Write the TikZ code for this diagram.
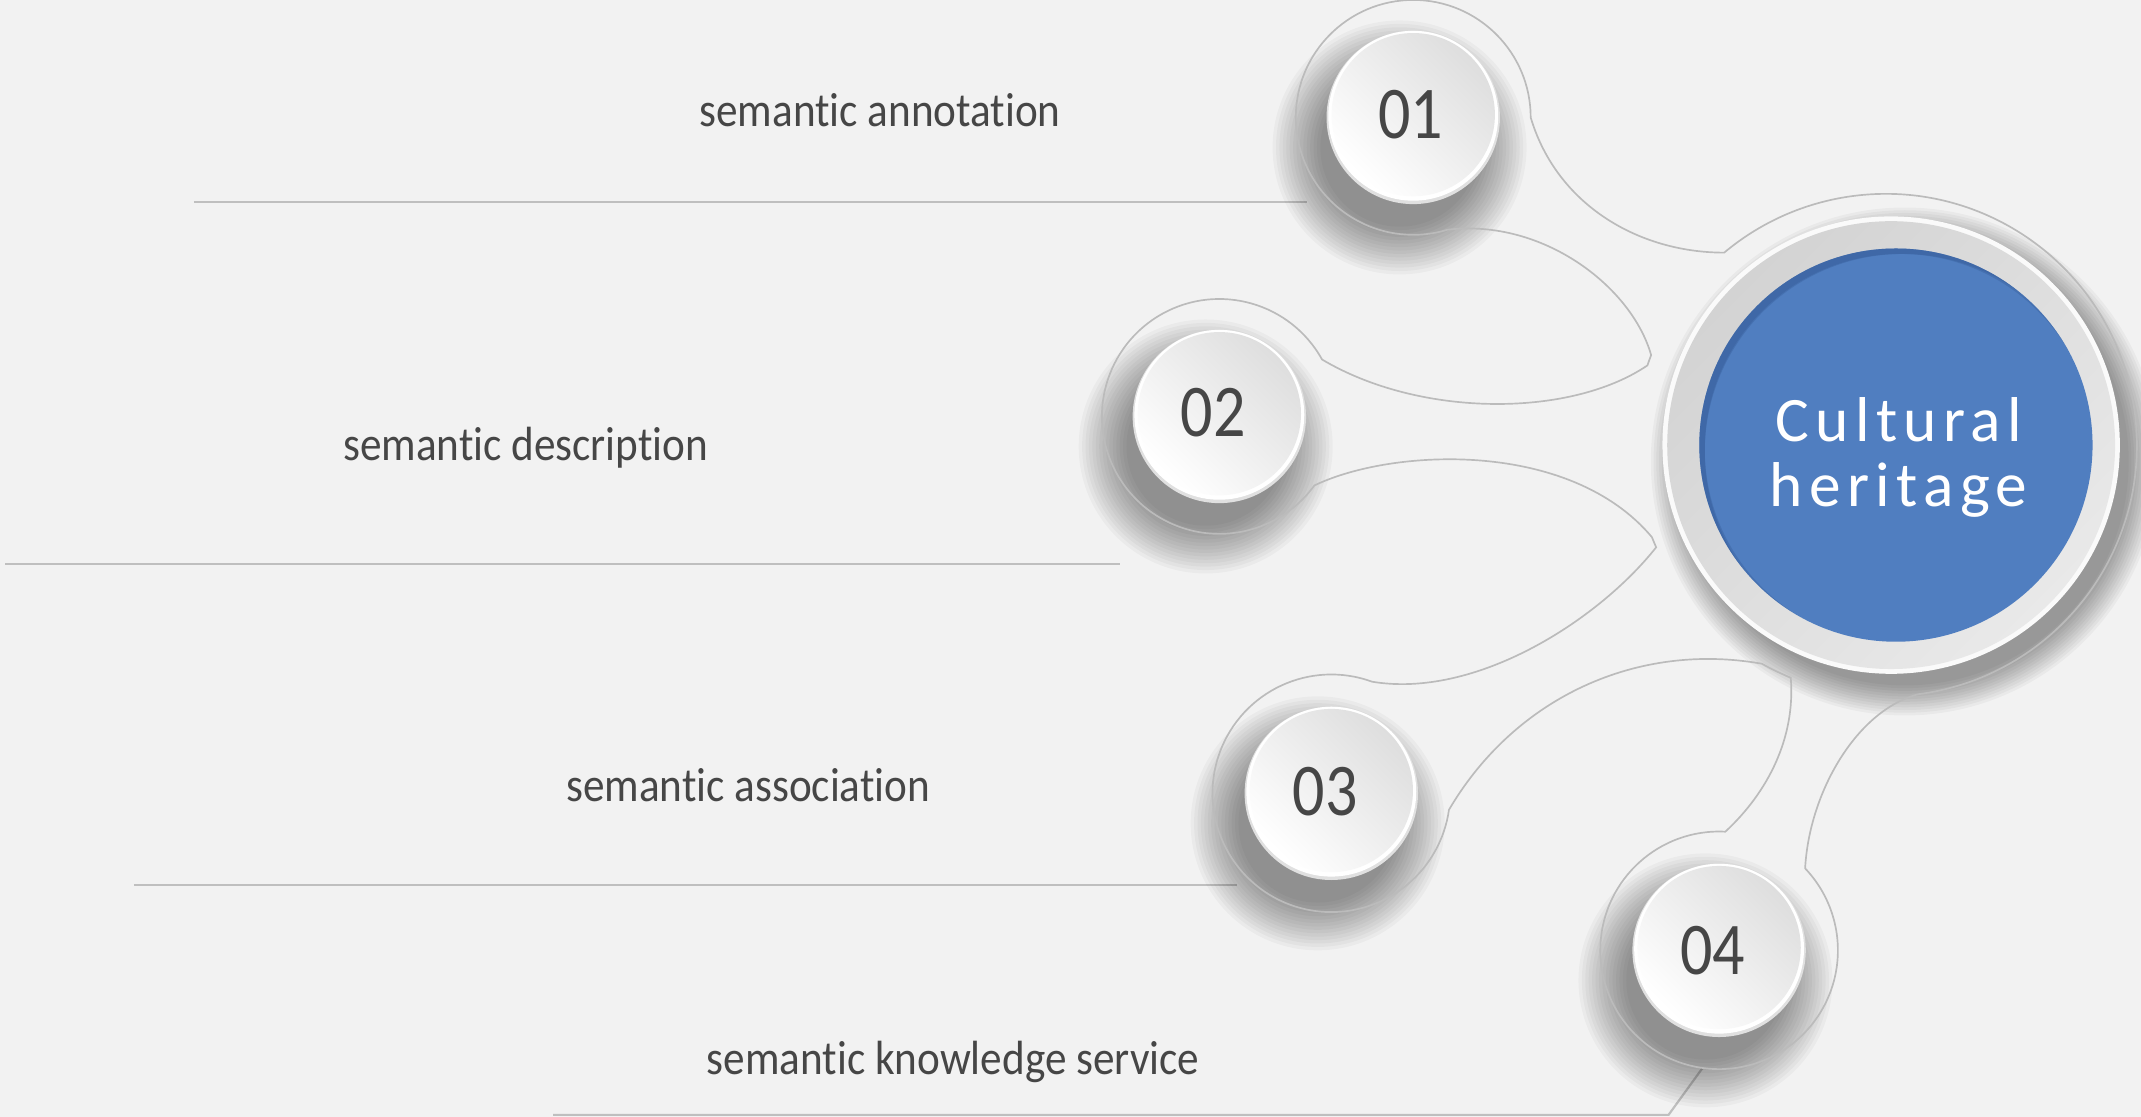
\documentclass[tikz,border=0pt]{standalone}
\usepackage{fontspec}
\setmainfont{Carlito}
\newfontfamily\labelfont{Carlito}[FakeStretch=0.9, Ligatures=NoCommon]
\newfontfamily\numfont{Carlito}[FakeStretch=0.86]
\newfontfamily\hubfont{Carlito}[LetterSpace=10, Ligatures=NoCommon]
\usepackage{tikz}
\usetikzlibrary{calc}

\definecolor{bgcol}{HTML}{F2F2F2}
\definecolor{txtcol}{HTML}{464646}
\definecolor{rulecol}{HTML}{BFBFBF}
\definecolor{outlinecol}{HTML}{BBBBBB}
\definecolor{hubblue}{HTML}{507EC0}
\definecolor{hubdark}{HTML}{2F5590}
\definecolor{hubrim}{HTML}{FAFAFA}
\definecolor{ringgrey}{HTML}{D3D3D3}
\definecolor{ringlight}{HTML}{E9E9E9}
\definecolor{diskgrey}{HTML}{DEDEDE}
\definecolor{diskedge}{HTML}{E0E0E0}

\begin{document}
\begin{tikzpicture}[
    itemtext/.style={font=\labelfont\fontsize{10}{12}\selectfont, text=txtcol,
                     anchor=base, inner sep=0pt},
    num/.style={font=\numfont\fontsize{15.5}{16}\selectfont, text=txtcol, inner sep=0pt},
    hubtext/.style={font=\hubfont\fontsize{13.2}{13.4}\selectfont, text=white,
                    align=center, inner sep=0pt},
    rule/.style={draw=rulecol, line width=0.45pt},
    outline/.style={draw=outlinecol, line width=0.35pt}
]

    % Canvas
    \useasboundingbox (0,0) rectangle (15.68,8.18);
    \fill[bgcol] (0,0) rectangle (15.68,8.18);

    % Centres of the discs and the hub
    \coordinate (c1) at (10.35,7.32);
    \coordinate (c2) at (8.93,5.13);
    \coordinate (c3) at (9.75,2.37);
    \coordinate (c4) at (12.59,1.22);
    \coordinate (hub) at (13.85,4.92);
    \coordinate (core) at (13.885,4.92);
    \coordinate (halo) at (13.81,4.92);

    % Rules under the items
    \coordinate (r1a) at (1.42,6.70);
    \coordinate (r1b) at (9.57,6.70);
    \coordinate (r2a) at (0.04,4.05);
    \coordinate (r2b) at (8.20,4.05);
    \coordinate (r3a) at (0.98,1.70);
    \coordinate (r3b) at (9.06,1.70);
    \coordinate (r4a) at (4.05,0.015);
    \coordinate (r4b) at (12.22,0.015);
    \draw[rule] (r1a) -- (r1b);
    \draw[rule] (r2a) -- (r2b);
    \draw[rule] (r3a) -- (r3b);
    \draw[rule] (r4a) -- (r4b) -- ($(c4)+(262:0.87)$);

    % Shadows
    \foreach \c in {c1,c2,c3,c4}
        \foreach \k in {0,...,14}
            \fill[black, opacity=0.03] ($(\c)+(-0.10,-0.22)$) circle ({0.93-0.025*\k});
    \foreach \k in {0,...,11}
        \fill[black, opacity=0.035] ($(hub)+(0.10,-0.12)$) circle ({1.86-0.02*\k});

    % Outline joining the rings and the hub
    \draw[outline]
        ($(c1)+(0:0.86)$) arc[start angle=0, end angle=287, radius=0.86]
        .. controls (11.30,6.58) and (11.95,6.08) .. ($(halo)+(159:1.84)$)
        arc[start angle=159, end angle=161.5, radius=1.84]
        .. controls (11.50,5.12) and (10.40,5.12) .. ($(c2)+(29:0.86)$)
        arc[start angle=29, end angle=324, radius=0.86]
        .. controls (10.20,4.90) and (11.50,4.96) .. ($(halo)+(201.5:1.84)$)
        arc[start angle=201.5, end angle=204, radius=1.84]
        .. controls (11.70,3.63) and (10.80,3.06) .. ($(c3)+(70:0.87)$)
        arc[start angle=70, end angle=352, radius=0.87]
        .. controls (11.10,3.08) and (12.00,3.48) .. ($(halo)+(240.5:1.84)$)
        arc[start angle=240.5, end angle=247.8, radius=1.84]
        .. controls (13.15,2.78) and (12.95,2.38) .. ($(c4)+(87:0.87)$)
        arc[start angle=87, end angle=403.6, radius=0.87]
        .. controls (13.25,2.38) and (13.60,2.98) .. ($(halo)+(-82.5:1.84)$)
        arc[start angle=-82.5, end angle=130, radius=1.84]
        .. controls (12.00,6.33) and (11.40,6.68) .. ($(c1)+(0:0.86)$);

    % Discs
    \foreach \c in {c1,c2,c3,c4} {
        \fill[diskedge] (\c) circle (0.635);
        \fill[white] ($(\c)+(0,0.012)$) circle (0.622);
        \shade[top color=diskgrey, bottom color=white, shading angle=-45]
            ($(\c)+(0,0.02)$) circle (0.598);
    }

    % Hub
    \fill[hubrim] (hub) circle (1.675);
    \shade[top color=ringgrey, bottom color=ringlight, shading angle=45] (hub) circle (1.64);
    \fill[hubblue] (core) circle (1.44);
    \begin{scope}
        \clip (core) circle (1.44);
        \draw[hubdark, opacity=0.3, line width=0.14cm] ($(core)+(0.05,-0.05)$) circle (1.52);
        \draw[hubdark, opacity=0.3, line width=0.14cm] ($(core)+(0.03,-0.03)$) circle (1.50);
    \end{scope}
    \node[hubtext] (hubname) at (13.905,4.83) {Cultural\\heritage};

    % Numbers
    \node[num] (n1) at ($(c1)+(-0.02,0.02)$) {01};
    \node[num] (n2) at ($(c2)+(-0.045,0.03)$) {02};
    \node[num] (n3) at ($(c3)+(-0.045,0.01)$) {03};
    \node[num] (n4) at ($(c4)+(-0.045,0.0)$) {04};

    % Items
    \node[itemtext] (item1) at (6.445,7.25) {semantic annotation};
    \node[itemtext] (item2) at (3.85,4.81) {semantic description};
    \node[itemtext] (item3) at (5.48,2.31) {semantic association};
    \node[itemtext] (item4) at (6.98,0.31) {semantic knowledge service};

\end{tikzpicture}
\end{document}
